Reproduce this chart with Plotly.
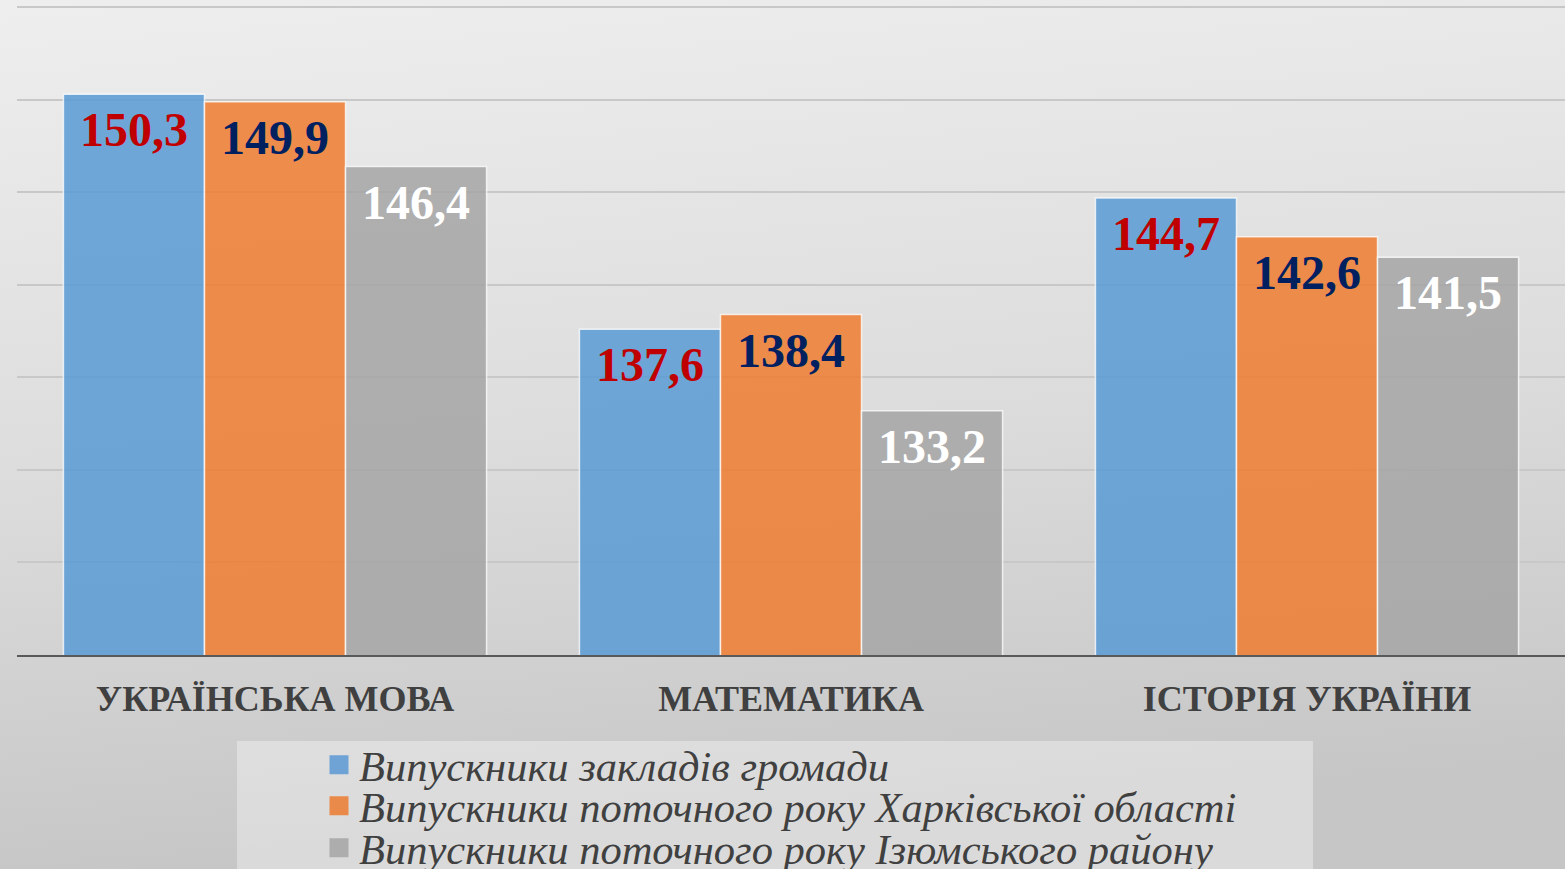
import base64
import plotly.graph_objects as go

categories = ["УКРАЇНСЬКА МОВА", "МАТЕМАТИКА", "ІСТОРІЯ УКРАЇНИ"]
series_names = [
    "Випускники закладів громади",
    "Випускники поточного року Харківської області",
    "Випускники поточного року Ізюмського району",
]
values_hromada = [150.3, 137.6, 144.7]
values_oblast = [149.9, 138.4, 142.6]
values_rayon = [146.4, 133.2, 141.5]

fill_colors = ["rgba(91,155,213,0.86)", "rgba(237,125,49,0.86)", "rgba(165,165,165,0.86)"]
legend_colors = ["#6fa3d6", "#e98a4a", "#adadad"]
label_colors = ["#c00000", "#002060", "#ffffff"]

W, H = 1565, 869
ML, MR, MT, MB = 17, 0, 0, 214
PW = W - ML - MR
PH = H - MT - MB
BARGAP = 0.18

def fmt(v):
    return f"{v:.1f}".replace(".", ",")

def px_x(p):
    return (p - ML) / PW

def px_y(p):
    return (H - MB - p) / PH

fig = go.Figure()
all_vals = [values_hromada, values_oblast, values_rayon]
nser = len(all_vals)
bar_w = (1 - BARGAP) / nser
annotations = []
for j, (name, vals, fc, lc) in enumerate(zip(series_names, all_vals, fill_colors, label_colors)):
    fig.add_trace(go.Bar(
        x=categories, y=vals, name=name,
        marker=dict(color=fc, line=dict(color="rgba(255,255,255,0.75)", width=1.5)),
        showlegend=False, hoverinfo="skip",
    ))
    for i, v in enumerate(vals):
        annotations.append(dict(
            x=i + (j - (nser - 1) / 2) * bar_w, y=v, xref="x", yref="y",
            text=fmt(v), showarrow=False, xanchor="center", yanchor="top", yshift=-7,
            font=dict(family="Liberation Serif", size=48, color=lc, weight="bold"),
        ))

legend_rows = [765, 806, 848]
legend_names = ["legend", "legend2", "legend3"]
for name, lc, lg in zip(series_names, legend_colors, legend_names):
    fig.add_trace(go.Scatter(
        x=[None], y=[None], name=name, mode="markers", legend=lg,
        marker=dict(symbol="square", size=16, color=lc, line=dict(color=lc, width=3)),
    ))

svg = (
    f'<svg xmlns="http://www.w3.org/2000/svg" width="{W}" height="{H}">'
    '<defs><linearGradient id="g" x1="0" y1="0" x2="0.15" y2="1">'
    '<stop offset="0" stop-color="#eeeeee"/>'
    '<stop offset="0.55" stop-color="#dcdcdc"/>'
    '<stop offset="1" stop-color="#c6c6c6"/>'
    '</linearGradient></defs>'
    f'<rect width="{W}" height="{H}" fill="url(#g)"/></svg>'
)
src = "data:image/svg+xml;base64," + base64.b64encode(svg.encode()).decode()

legend_font = dict(family="Liberation Serif", size=42.5, color="#404040", style="italic")
legends = {}
for lg, row in zip(legend_names, legend_rows):
    legends[lg] = dict(
        x=px_x(319), y=px_y(row), xanchor="left", yanchor="middle",
        bgcolor="rgba(0,0,0,0)", font=legend_font,
        itemclick=False, itemdoubleclick=False,
    )

fig.update_layout(
    width=W, height=H,
    margin=dict(l=ML, r=MR, t=MT, b=MB, autoexpand=False),
    paper_bgcolor="#dddddd",
    plot_bgcolor="rgba(0,0,0,0)",
    barmode="group", bargap=BARGAP, bargroupgap=0,
    annotations=annotations,
    images=[dict(source=src, xref="paper", yref="paper",
                 x=px_x(0), y=px_y(0), sizex=W / PW, sizey=H / PH,
                 xanchor="left", yanchor="top", sizing="stretch", layer="below")],
    shapes=[dict(type="rect", xref="paper", yref="paper",
                 x0=px_x(237), x1=px_x(1313), y0=px_y(741), y1=px_y(H + 5),
                 fillcolor="rgba(255,255,255,0.35)", line=dict(width=0), layer="below")],
    xaxis=dict(
        showgrid=False, showline=True, linecolor="#595959", linewidth=2,
        ticks="", ticklabelstandoff=11,
        tickfont=dict(family="Liberation Serif", size=36, color="#404040", weight="bold"),
    ),
    yaxis=dict(
        range=[120, 155.4], dtick=5, tick0=120, showticklabels=False,
        showgrid=True, gridcolor="#c8c8c8", gridwidth=1.5, zeroline=False, showline=False,
    ),
    **legends,
)

fig.write_html(
    "out.html",
    config={"responsive": False, "displayModeBar": False},
    post_script="document.body.style.margin='0';document.body.style.overflow='hidden';",
)
